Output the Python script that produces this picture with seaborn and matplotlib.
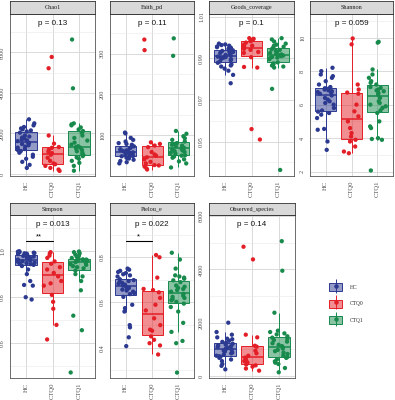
import matplotlib

matplotlib.use("Agg")
import matplotlib.pyplot as plt
import matplotlib.transforms as mtransforms
import numpy as np
import pandas as pd
import seaborn as sns
from matplotlib.colors import to_rgba
from matplotlib.legend_handler import HandlerTuple
from matplotlib.lines import Line2D
from matplotlib.patches import Patch

GROUPS = ["HC", "CTQ0", "CTQ1"]
COLORS = ["#2B3990", "#E41E26", "#178A4C"]

# values, one list per metric and group
chao1_hc = [300, 450, 600, 750, 850, 950, 1050, 1130, 1170, 1230, 1300, 1350, 1420, 1480, 1530, 1580,
            1620, 1660, 1700, 1750, 1800, 1850, 1900, 2040, 2100, 2150, 2200, 2250, 2320, 2400, 2500, 2700]
chao1_ctq0 = [150, 220, 300, 400, 480, 520, 650, 800, 950, 1030, 1100, 1200, 1290, 1330, 1500, 1900, 5220, 5780]
chao1_ctq1 = [160, 400, 550, 650, 750, 820, 880, 930, 970, 1050, 1120, 1180, 1240, 1300, 1330, 1370,
              1450, 1550, 1650, 1780, 1900, 2040, 2120, 2200, 2300, 2400, 2450, 2500, 4230, 6640]

faith_hc = [30, 33, 36, 39, 42, 44, 46, 47.5, 48.5, 50, 51, 52, 54, 55, 56, 57,
            59, 60, 62, 63, 65, 67, 69, 72, 76, 78, 80, 84, 88, 93, 104, 106]
faith_ctq0 = [15, 18, 22, 25, 26, 30, 34, 40, 45, 49, 52, 58, 70, 74, 78, 82, 309, 335]
faith_ctq1 = [20, 30, 35, 40, 44, 47, 49, 50, 54, 56, 58, 60, 62, 64, 66, 68,
              70, 72, 74, 76, 78, 80, 84, 88, 92, 97, 103, 110, 295, 338]

goods_hc = [0.978, 0.982, 0.984, 0.985, 0.986, 0.9865, 0.987, 0.9878, 0.9884, 0.989, 0.9895, 0.9898,
            0.990, 0.9903, 0.9906, 0.9908, 0.9912, 0.9915, 0.992, 0.9925, 0.993, 0.9932, 0.9935, 0.9938,
            0.9945, 0.995, 0.9953, 0.9956, 0.996, 0.9963, 0.9966, 0.997]
goods_ctq0 = [0.951, 0.956, 0.9855, 0.9858, 0.9905, 0.9925, 0.993, 0.994, 0.9945, 0.9955, 0.996, 0.9965,
              0.9975, 0.9982, 0.9985, 0.999, 0.9993, 0.9996]
goods_ctq1 = [0.9364, 0.9753, 0.9855, 0.986, 0.9865, 0.987, 0.9875, 0.988, 0.9895, 0.99, 0.9903, 0.9906,
              0.991, 0.9913, 0.9915, 0.9918, 0.992, 0.9925, 0.993, 0.9935, 0.994, 0.9943, 0.9952, 0.9955,
              0.996, 0.9965, 0.997, 0.998, 0.999, 0.9996]

shannon_hc = [3.3, 3.8, 4.5, 4.55, 5.2, 5.4, 5.5, 5.58, 5.65, 5.8, 6.0, 6.1, 6.2, 6.3, 6.4, 6.55,
              6.65, 6.7, 6.75, 6.8, 6.85, 6.9, 6.95, 6.98, 7.05, 7.2, 7.4, 7.6, 7.7, 7.8, 8.0, 8.2]
shannon_ctq0 = [3.1, 3.2, 3.5, 3.8, 3.9, 4.1, 4.3, 4.6, 5.0, 5.3, 5.6, 6.0, 6.65, 6.72, 6.9, 7.2, 9.6, 9.95]
shannon_ctq1 = [2.07, 3.9, 3.95, 4.0, 4.6, 4.7, 5.0, 5.5, 5.65, 5.8, 5.9, 6.0, 6.1, 6.2, 6.4, 6.6,
                6.7, 6.8, 6.85, 6.9, 7.0, 7.05, 7.2, 7.3, 7.4, 7.6, 7.8, 8.1, 9.7, 9.75]

simpson_hc = [0.79, 0.80, 0.85, 0.853, 0.87, 0.90, 0.92, 0.935, 0.94, 0.943, 0.946, 0.948, 0.95, 0.953,
              0.956, 0.959, 0.963, 0.966, 0.968, 0.97, 0.973, 0.976, 0.979, 0.983, 0.987, 0.988, 0.99,
              0.991, 0.993, 0.995, 0.997, 0.999]
simpson_ctq0 = [0.617, 0.68, 0.75, 0.78, 0.81, 0.85, 0.86, 0.87, 0.89, 0.905, 0.92, 0.93, 0.945, 0.955,
                0.97, 0.98, 0.99, 0.995]
simpson_ctq1 = [0.474, 0.657, 0.72, 0.83, 0.87, 0.89, 0.90, 0.915, 0.925, 0.93, 0.935, 0.94, 0.943, 0.948,
                0.952, 0.956, 0.958, 0.96, 0.961, 0.962, 0.963, 0.964, 0.966, 0.97, 0.975, 0.98, 0.985,
                0.99, 0.995, 0.998]

pielou_hc = [0.407, 0.446, 0.49, 0.50, 0.56, 0.575, 0.59, 0.625, 0.637, 0.642, 0.648, 0.653, 0.657, 0.661,
             0.665, 0.669, 0.675, 0.679, 0.683, 0.687, 0.691, 0.695, 0.699, 0.703, 0.715, 0.72, 0.725,
             0.73, 0.735, 0.74, 0.745, 0.75]
pielou_ctq0 = [0.37, 0.41, 0.42, 0.435, 0.45, 0.475, 0.48, 0.50, 0.53, 0.565, 0.59, 0.62, 0.645, 0.655,
               0.66, 0.71, 0.80, 0.81]
pielou_ctq1 = [0.29, 0.42, 0.43, 0.47, 0.51, 0.56, 0.58, 0.595, 0.603, 0.61, 0.615, 0.62, 0.625, 0.63,
               0.638, 0.648, 0.655, 0.66, 0.665, 0.67, 0.675, 0.69, 0.698, 0.705, 0.71, 0.715, 0.72,
               0.75, 0.79, 0.82]

observed_hc = [250, 380, 450, 560, 620, 680, 720, 740, 760, 800, 850, 880, 920, 950, 980, 1000,
               1030, 1060, 1090, 1120, 1150, 1180, 1210, 1240, 1280, 1320, 1380, 1400, 1450, 1550, 1650, 2000]
observed_ctq0 = [200, 280, 350, 400, 430, 510, 560, 620, 690, 760, 850, 950, 1100, 1135, 1450, 1550, 4375, 4850]
observed_ctq1 = [140, 300, 450, 500, 550, 620, 680, 710, 770, 830, 880, 930, 980, 1030, 1080, 1120,
                 1170, 1230, 1290, 1350, 1400, 1440, 1490, 1560, 1600, 1650, 1700, 2375, 3950, 5060]

METRICS = ["Chao1", "Faith_pd", "Goods_coverage", "Shannon", "Simpson", "Pielou_e", "Observed_species"]
P_LABELS = ["p = 0.13", "p = 0.11", "p = 0.1", "p = 0.059", "p = 0.013", "p = 0.022", "p = 0.14"]
SIG_LABELS = {"Simpson": "**", "Pielou_e": "*"}

values = {
    "Chao1": [chao1_hc, chao1_ctq0, chao1_ctq1],
    "Faith_pd": [faith_hc, faith_ctq0, faith_ctq1],
    "Goods_coverage": [goods_hc, goods_ctq0, goods_ctq1],
    "Shannon": [shannon_hc, shannon_ctq0, shannon_ctq1],
    "Simpson": [simpson_hc, simpson_ctq0, simpson_ctq1],
    "Pielou_e": [pielou_hc, pielou_ctq0, pielou_ctq1],
    "Observed_species": [observed_hc, observed_ctq0, observed_ctq1],
}

rows = []
for metric in METRICS:
    for g, vals in zip(GROUPS, values[metric]):
        rows += [(metric, g, v) for v in vals]
df = pd.DataFrame(rows, columns=["metric", "group", "value"])

# panel layout in pixels: (left, right, row), y-limits, major ticks, tick labels, minor ticks
W, H = 395, 400
ROWS = {0: (1, 14, 176), 1: (203, 215, 378)}  # strip top, plot top, plot bottom
PANELS = {
    "Chao1": ((10, 95, 0), (-100, 7900), [0, 2000, 4000, 6000], ["0", "2000", "4000", "6000"], [1000, 3000, 5000, 7000]),
    "Faith_pd": ((110, 194, 0), (-1, 398), [100, 200, 300], ["100", "200", "300"], [50, 150, 250, 350]),
    "Goods_coverage": ((209, 294, 0), (0.9335, 1.0112), [0.95, 0.97, 0.99, 1.01], ["0.95", "0.97", "0.99", "1.01"], [0.94, 0.96, 0.98, 1.00]),
    "Shannon": ((310, 393, 0), (1.74, 11.41), [2, 4, 6, 8, 10], ["2", "4", "6", "8", "10"], [3, 5, 7, 9, 11]),
    "Simpson": ((10, 95, 1), (0.45, 1.156), [0.6, 0.8, 1.0], ["0.6", "0.8", "1.0"], [0.5, 0.7, 0.9, 1.1]),
    "Pielou_e": ((110, 194, 1), (0.266, 0.987), [0.4, 0.6, 0.8], ["0.4", "0.6", "0.8"], [0.3, 0.5, 0.7, 0.9]),
    "Observed_species": ((209, 295, 1), (-75, 6041), [0, 2000, 4000, 6000], ["0", "2000", "4000", "6000"], [1000, 3000, 5000]),
}


def fig_rect(x0, y0, x1, y1):
    return [x0 / W, 1 - y1 / H, (x1 - x0) / W, (y1 - y0) / H]


sns.set_theme(style="white")
plt.rcParams["font.family"] = ["Liberation Serif", "DejaVu Serif"]
np.random.seed(3)

fig = plt.figure(figsize=(W / 100, H / 100), dpi=100)

for metric, plabel in zip(METRICS, P_LABELS):
    (x0, x1, r), ylim, major, major_lab, minor = PANELS[metric]
    strip_top, top, bottom = ROWS[r]
    ax = fig.add_axes(fig_rect(x0, top, x1, bottom))
    sub = df[df["metric"] == metric]

    sns.stripplot(data=sub, x="group", y="value", hue="group", order=GROUPS, hue_order=GROUPS,
                  palette=COLORS, jitter=0.33, size=3.1, linewidth=0, legend=False, ax=ax, zorder=2)
    sns.boxplot(data=sub, x="group", y="value", hue="group", order=GROUPS, hue_order=GROUPS,
                palette=COLORS, saturation=1, width=0.8, showfliers=False, showcaps=False,
                linewidth=0.7, medianprops={"linewidth": 1.1}, legend=False, ax=ax)
    for patch in ax.patches:
        c = patch.get_facecolor()
        patch.set_facecolor((c[0], c[1], c[2], 0.5))
        patch.set_edgecolor((c[0], c[1], c[2], 1))
        patch.set_zorder(3)
    for line in ax.lines:
        xd = np.asarray(line.get_xdata(), dtype=float)
        line.set_color(COLORS[int(round(xd.mean()))])
        line.set_zorder(3.5)

    ax.set_xlim(-0.6, 2.6)
    ax.set_ylim(*ylim)
    ax.set_yticks(major)
    ax.set_yticklabels(major_lab, rotation=90, va="center")
    ax.set_yticks(minor, minor=True)
    ax.set_xlabel("")
    ax.set_ylabel("")
    ax.set_axisbelow(True)
    ax.grid(True, which="major", color="#D4D4D4", linewidth=0.6)
    ax.grid(True, which="minor", axis="y", color="#E8E8E8", linewidth=0.4)
    ax.tick_params(axis="both", which="major", length=2, width=0.5, color="#333333", pad=1.5,
                   labelcolor="#4D4D4D")
    ax.tick_params(axis="x", labelsize=4.8, labelrotation=90)
    ax.tick_params(axis="y", labelsize=4.4)
    ax.tick_params(which="minor", length=0)
    for s in ax.spines.values():
        s.set_color("#555555")
        s.set_linewidth(0.6)

    blend = mtransforms.blended_transform_factory(ax.transData, ax.transAxes)
    ax.text(1, (bottom - (top + 9.5)) / (bottom - top), plabel, transform=blend, ha="center", va="center",
            fontsize=5.8, family=["Liberation Sans", "DejaVu Sans"], color="#111111")
    if metric in SIG_LABELS:
        yb = (bottom - 241) / (bottom - top)
        ax.plot([0, 1], [yb, yb], transform=blend, color="black", lw=0.8, zorder=5)
        ax.text(0.5, yb + 0.004, SIG_LABELS[metric], transform=blend, ha="center", va="bottom",
                fontsize=5.5, family=["Liberation Sans", "DejaVu Sans"], color="black")

    sax = fig.add_axes(fig_rect(x0, strip_top, x1, top))
    sax.set_facecolor("#D9D9D9")
    sax.set_xticks([])
    sax.set_yticks([])
    for s in sax.spines.values():
        s.set_color("#333333")
        s.set_linewidth(0.6)
    sax.text(0.5, 0.5, metric, ha="center", va="center", fontsize=4.4, color="#1A1A1A",
             transform=sax.transAxes)

handles = [
    (Line2D([], [], color=c, marker="|", markersize=10, markeredgewidth=0.7, linestyle="none"),
     Patch(facecolor=to_rgba(c, 0.5), edgecolor=c, linewidth=0.7),
     Line2D([], [], color=c, marker="o", markersize=2.2, linestyle="none"))
    for c in COLORS
]
fig.legend(handles, GROUPS, handler_map={tuple: HandlerTuple(ndivide=1, pad=0)},
           loc="upper left", bbox_to_anchor=(324 / W, 1 - 278 / H), frameon=False,
           prop={"family": "Liberation Serif", "size": 4.0},
           handlelength=2.4, handleheight=1.9, labelspacing=1.5, handletextpad=1.4)

fig.savefig("out.png", dpi=100, facecolor="white")
plt.close(fig)
